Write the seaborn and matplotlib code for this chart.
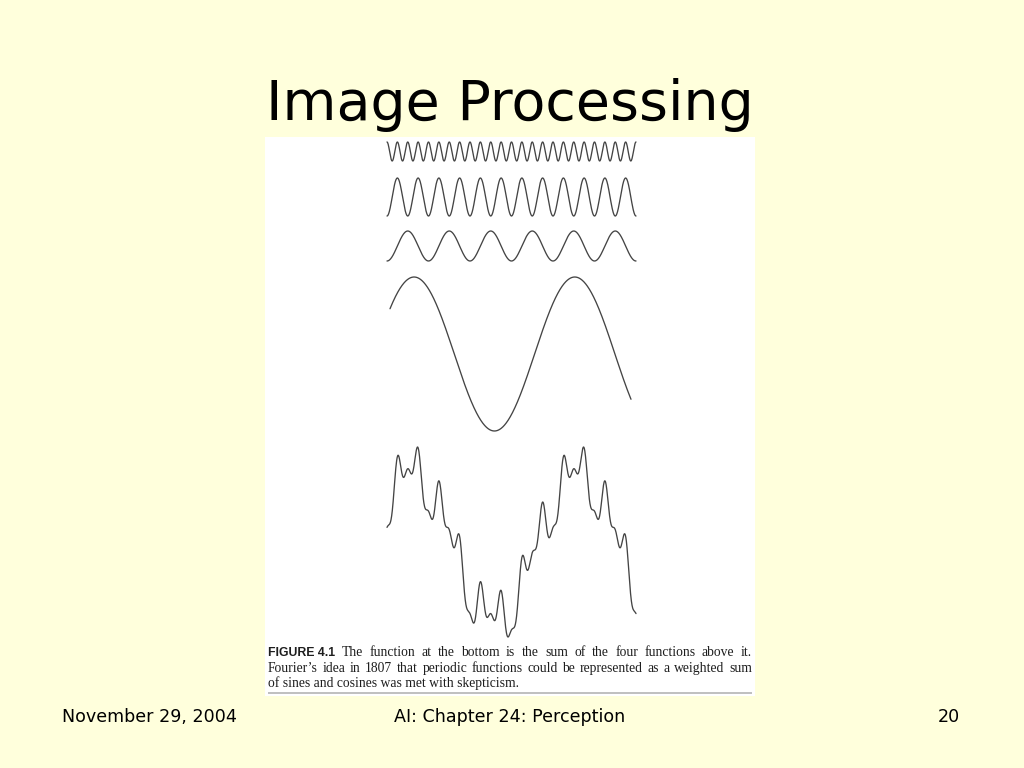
import numpy as np
import pandas as pd
import matplotlib
matplotlib.use("Agg")
import matplotlib.pyplot as plt
import seaborn as sns

# slide text
title = "Image Processing"
footer_left = "November 29, 2004"
footer_mid = "AI: Chapter 24: Perception"
footer_right = "20"
fig_label = "FIGURE 4.1"
caption_lines = [
    "The function at the bottom is the sum of the four functions above it.",
    "Fourier\u2019s idea in 1807 that periodic functions could be represented as a weighted sum",
    "of sines and cosines was met with skepticism.",
]

# the four components, top to bottom (cycles across the strip, weight, phase in cycles)
names = ["f1", "f2", "f3", "f4"]
cycles = [24, 12, 6, 1.5]
weights = [0.12, 0.25, 0.2, 1.0]
phases = [0.0, 0.5, 0.5, -0.15]

W, H = 1024, 768
BG = "#FFFFDC"

t = np.linspace(0, 1, 1500)
frames = []
for name, c, w, p in zip(names, cycles, weights, phases):
    frames.append(pd.DataFrame({"t": t, "y": w * np.cos(2 * np.pi * (c * t + p)), "wave": name}))
df = pd.concat(frames, ignore_index=True)
total = df.groupby("t")["y"].sum().reset_index()

sns.set_style("white")
fig = plt.figure(figsize=(W / 100, H / 100), dpi=100, facecolor=BG)


def px_axes(x0, y0, x1, y1, **kw):
    # pixel box (top-left origin) -> figure axes
    return fig.add_axes([x0 / W, 1 - y1 / H, (x1 - x0) / W, (y1 - y0) / H], **kw)


# white figure panel
panel = px_axes(265, 137, 755, 696)
panel.set_facecolor("white")
panel.set_xticks([])
panel.set_yticks([])
for s in panel.spines.values():
    s.set_visible(False)

boxes = [
    (387, 142, 636, 161),
    (387, 178, 636, 216),
    (387, 231, 636, 261),
    (390, 277, 631, 431),
]
line_kw = dict(color="#444444", linewidth=0.95)

for name, box in zip(names, boxes):
    ax = px_axes(*box)
    sub = df[df["wave"] == name]
    sns.lineplot(data=sub, x="t", y="y", ax=ax, **line_kw)
    ax.set_xlim(0, 1)
    ax.set_ylim(sub["y"].min(), sub["y"].max())
    ax.axis("off")
    for ln in ax.lines:
        ln.set_clip_on(False)

ax = px_axes(387, 447, 636, 637)
sns.lineplot(data=total, x="t", y="y", ax=ax, **line_kw)
ax.set_xlim(0, 1)
ax.set_ylim(total["y"].min(), total["y"].max())
ax.axis("off")
for ln in ax.lines:
    ln.set_clip_on(False)

# caption, justified like the book page
renderer = fig.canvas.get_renderer()
serif = dict(family="Liberation Serif", fontsize=9.8, color="#1e1e1e")
bold = dict(family="Liberation Sans", fontsize=8.8, fontweight="bold", color="#1e1e1e")


def justify(parts, y, x0, x1):
    texts = [fig.text(0, 1 - y / H, txt, va="baseline", ha="left", **kw) for txt, kw in parts]
    widths = [tt.get_window_extent(renderer).width for tt in texts]
    gap = (x1 - x0 - sum(widths)) / (len(texts) - 1)
    x = x0
    for tt, w in zip(texts, widths):
        tt.set_x(x / W)
        x += w + gap


first = [(fig_label, bold)] + [(w, serif) for w in caption_lines[0].split()]
justify(first, 656, 268, 752)
justify([(w, serif) for w in caption_lines[1].split()], 672, 268, 752)
# last line is left aligned
fig.text(268 / W, 1 - 687 / H, caption_lines[2], va="baseline", ha="left", **serif)

rule = px_axes(268, 692, 752, 694)
rule.axhline(0.5, color="#b4b4b4", linewidth=1.2)
rule.set_ylim(0, 1)
rule.axis("off")

# slide title and footer
fig.text(510 / W, 1 - 120 / H, title, ha="center", va="baseline",
         family="DejaVu Sans", fontsize=40, color="black")
foot = dict(family="DejaVu Sans", fontsize=12.6, color="black", va="center")
fig.text(62 / W, 1 - 717 / H, footer_left, ha="left", **foot)
fig.text(510 / W, 1 - 717 / H, footer_mid, ha="center", **foot)
fig.text(960 / W, 1 - 717 / H, footer_right, ha="right", **foot)

fig.savefig("out.png", dpi=100, facecolor=BG)
